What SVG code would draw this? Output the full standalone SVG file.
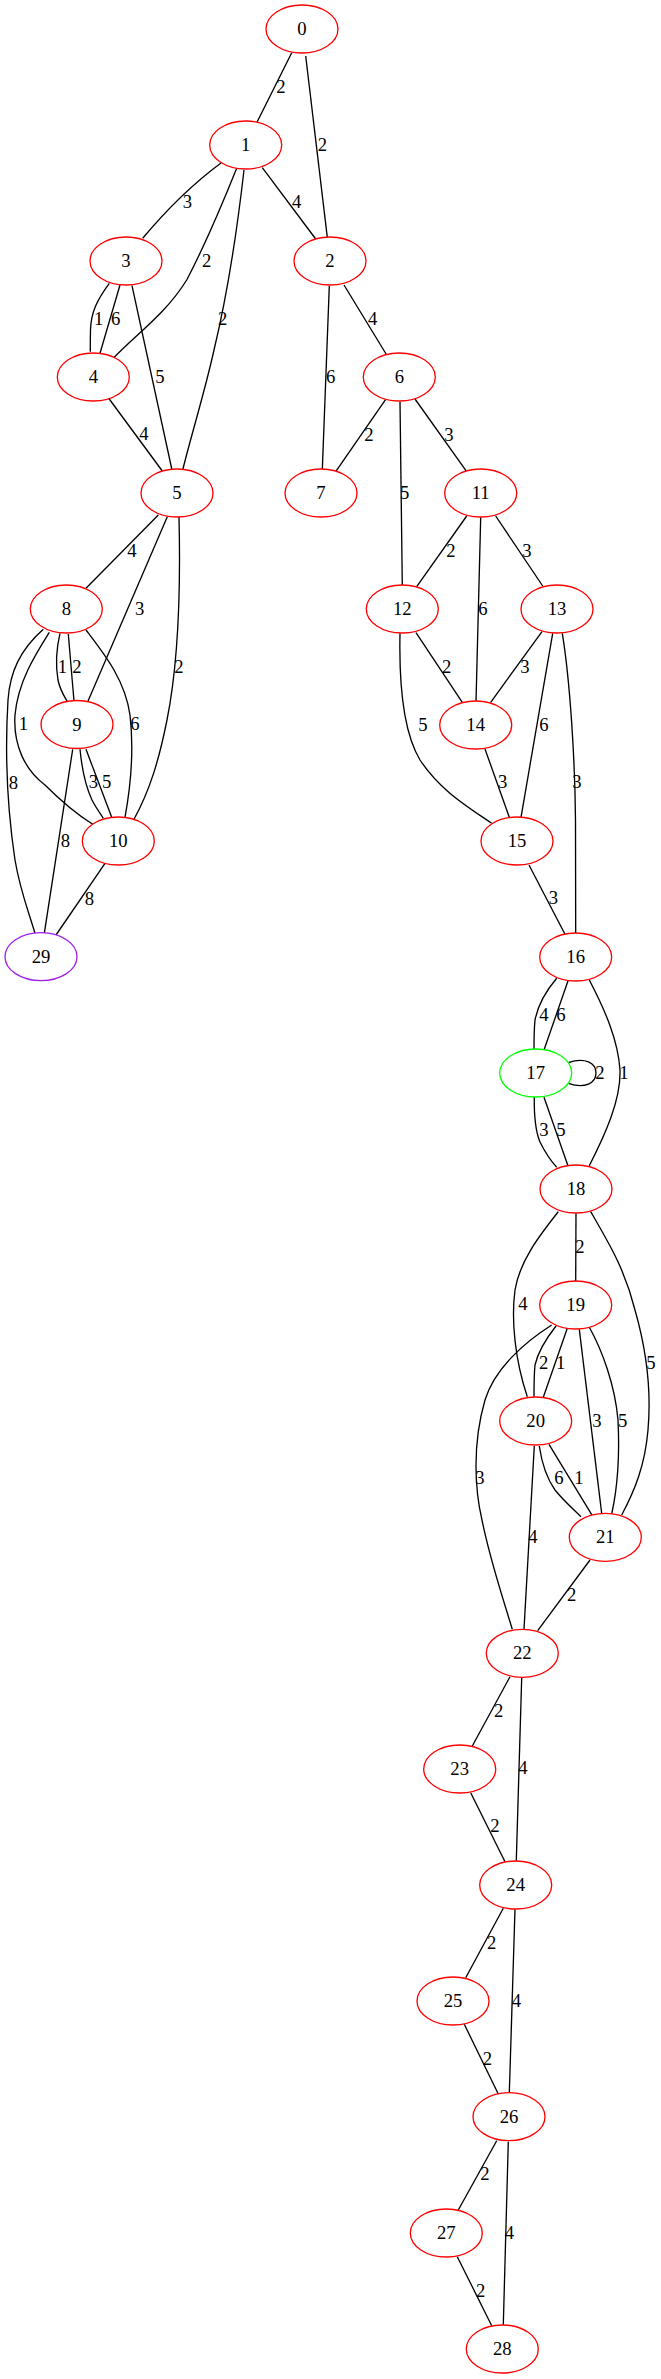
<svg xmlns="http://www.w3.org/2000/svg" width="661" height="2379" viewBox="0 0 661 2379">
<style>
.e path{fill:none;stroke:#000;stroke-width:1.33}
.n ellipse{fill:#fff;stroke:#ff0000;stroke-width:1.33}
text{font-family:"Liberation Serif","Times New Roman",serif;font-size:18.67px;fill:#000;text-anchor:middle}
</style>
<rect width="661" height="2379" fill="#fff"/>
<g id="edges" class="e">
<path d="M291.7,52.7 L256.7,122.7"/>
<path d="M305.7,56 L327.3,237.3"/>
<path d="M262.3,167.7 L315.7,239"/>
<path d="M221,163 C198,180 168,208 142.7,238.3"/>
<path d="M236.7,168.3 C222,205 205,245 186.7,280 C165,315 135,335 113.3,358.3"/>
<path d="M244,170 C236,240 226,300 214,350 C204,395 192,432 182.7,470"/>
<path d="M109.3,283.3 C97,300 91,312 90.5,330 C90.2,340 90.3,345 90.3,351.7"/>
<path d="M120,285 L100,353.3"/>
<path d="M132,285.7 L172,470"/>
<path d="M108.5,398 L162.3,471"/>
<path d="M329.3,286 L322.3,470"/>
<path d="M344,285 L386.7,355"/>
<path d="M385.7,399.3 L335.7,471.7"/>
<path d="M400,401.7 L402.3,585.7"/>
<path d="M415,399 L466.7,471.7"/>
<path d="M158.3,515 L86,588.3"/>
<path d="M167.3,516.7 L87.3,702.7"/>
<path d="M179,517 C181,600 177,670 167,720 C159,760 150,790 134,819.3"/>
<path d="M466.7,516 L416.7,586.7"/>
<path d="M480.7,517.3 L476,701.7"/>
<path d="M495.7,516 L542.7,586"/>
<path d="M416,632.7 L462.3,702.3"/>
<path d="M400,633.3 C399,680 402,730 420,760 C440,790 465,805 491.7,823.3"/>
<path d="M542,631.7 L490.7,702.3"/>
<path d="M552.7,633.3 L521,817.3"/>
<path d="M562.3,633.3 C570,680 575,760 575.5,820 L575.7,933.3"/>
<path d="M485,749 L509.3,817.3"/>
<path d="M529,865 L565,934.3"/>
<path d="M60,633.3 C56,650 56,668 58,680 C60,690 64,696 67.7,702.3"/>
<path d="M68.3,634 L74,701"/>
<path d="M49.3,632.3 C35,655 18,682 15,715 C13,745 25,770 45,785 C60,800 78,815 92.7,824.3"/>
<path d="M86,630 C105,655 125,680 130,715 C134,750 130,790 125,817.3"/>
<path d="M43.3,629.3 C20,650 10,672 8,700 C5,750 6,800 15,860 C20,890 28,910 35,933.3"/>
<path d="M80,749.3 C82,770 85,785 92,800 C96,808 100,813 103.3,818.3"/>
<path d="M86,749.3 L111.7,817.3"/>
<path d="M72.7,749.3 L44.3,933.3"/>
<path d="M105,863.3 L56,935"/>
<path d="M556.7,978.3 C545,992 538,1005 535,1020 C534,1030 534,1040 534,1049.3"/>
<path d="M568.3,980 L544,1050"/>
<path d="M589.3,980 C605,1010 618,1040 620,1070 C621,1100 605,1135 589.3,1165.7"/>
<path d="M568.3,1062.7 C585,1057 596,1063 596,1073 C596,1083 585,1089 568.3,1083.3"/>
<path d="M534.3,1096.7 C534,1115 535,1130 540,1142 C545,1152 550,1160 556.7,1167.3"/>
<path d="M544,1097.3 L568.3,1166.7"/>
<path d="M576,1213.3 L575.7,1281.7"/>
<path d="M558.3,1211.7 C540,1235 520,1260 515,1290 C511,1320 515,1360 527.3,1396.7"/>
<path d="M590.7,1211.7 C610,1245 625,1270 635,1310 C645,1345 652,1385 648,1430 C645,1465 635,1490 621.7,1515"/>
<path d="M556,1326 C545,1340 538,1352 535,1365 C534,1375 534,1385 534,1396.7"/>
<path d="M567.3,1328.3 L543.3,1397.3"/>
<path d="M579.3,1329.3 L601.7,1513.3"/>
<path d="M589.3,1327.3 C602,1350 615,1385 618,1420 C620,1460 617,1490 611.7,1514"/>
<path d="M551.7,1325 C525,1342 495,1368 485,1400 C472,1445 475,1490 482,1520 C490,1560 502,1595 512.3,1629.3"/>
<path d="M539.3,1446 C542,1465 548,1480 555,1490 C563,1500 572,1508 581,1516.7"/>
<path d="M549,1444.3 L592.3,1515.7"/>
<path d="M534.3,1446 L524,1629.3"/>
<path d="M590,1560 L537.7,1630.7"/>
<path d="M510,1676.7 L472.3,1746"/>
<path d="M521.7,1677.7 L516.3,1860.7"/>
<path d="M470.7,1792.7 L505,1861.7"/>
<path d="M503.3,1908.3 L465.7,1977.7"/>
<path d="M515,1909.3 L509.3,2093.3"/>
<path d="M464.3,2024.3 L498.3,2094"/>
<path d="M496.7,2140.7 L458.3,2210"/>
<path d="M508.3,2141.7 L503.3,2325"/>
<path d="M457.3,2256.7 L491.7,2325.7"/>
</g>
<g id="edge-labels">
<text x="281" y="93">2</text>
<text x="322.3" y="151">2</text>
<text x="187.3" y="208.3">3</text>
<text x="296.7" y="208.3">4</text>
<text x="206.7" y="266.7">2</text>
<text x="98.7" y="325">1</text>
<text x="115.7" y="325">6</text>
<text x="222.7" y="325">2</text>
<text x="372.7" y="325">4</text>
<text x="160" y="382.7">5</text>
<text x="330.7" y="382.7">6</text>
<text x="144" y="440.3">4</text>
<text x="369" y="441">2</text>
<text x="449" y="441">3</text>
<text x="404.7" y="498.7">5</text>
<text x="132" y="556.7">4</text>
<text x="451" y="556.7">2</text>
<text x="527" y="556.7">3</text>
<text x="139.7" y="615">3</text>
<text x="483" y="615">6</text>
<text x="62.3" y="672.7">1</text>
<text x="77" y="672.7">2</text>
<text x="179" y="672.7">2</text>
<text x="446.7" y="672.7">2</text>
<text x="525" y="672.7">3</text>
<text x="23.3" y="730.3">1</text>
<text x="135" y="730.3">6</text>
<text x="423" y="731">5</text>
<text x="544" y="731">6</text>
<text x="13.3" y="788.7">8</text>
<text x="93.3" y="787.7">3</text>
<text x="106.7" y="787.7">5</text>
<text x="502.7" y="788.3">3</text>
<text x="577" y="788.3">3</text>
<text x="65.3" y="846.7">8</text>
<text x="89.3" y="905">8</text>
<text x="553.3" y="904.3">3</text>
<text x="544" y="1021">4</text>
<text x="561" y="1021">6</text>
<text x="600" y="1079">2</text>
<text x="624" y="1079">1</text>
<text x="544" y="1136">3</text>
<text x="561" y="1136">5</text>
<text x="580" y="1252.7">2</text>
<text x="523" y="1310.3">4</text>
<text x="651" y="1368.7">5</text>
<text x="543.7" y="1368.7">2</text>
<text x="560.7" y="1368.7">1</text>
<text x="597" y="1426.7">3</text>
<text x="622.7" y="1426.7">5</text>
<text x="480" y="1484.3">3</text>
<text x="559" y="1484.3">6</text>
<text x="579" y="1484.3">1</text>
<text x="533" y="1542.7">4</text>
<text x="571.7" y="1601">2</text>
<text x="498.7" y="1716.7">2</text>
<text x="523" y="1774.3">4</text>
<text x="495" y="1832">2</text>
<text x="491.7" y="1948.7">2</text>
<text x="516.3" y="2006.7">4</text>
<text x="487.3" y="2065.3">2</text>
<text x="485" y="2180">2</text>
<text x="509.3" y="2238.7">4</text>
<text x="480.7" y="2296.7">2</text>
</g>
<g id="nodes" class="n">
<g id="node0"><ellipse cx="302" cy="29" rx="36" ry="24"/><text x="302" y="35">0</text></g>
<g id="node1"><ellipse cx="245.7" cy="145" rx="36" ry="24"/><text x="245.7" y="151">1</text></g>
<g id="node2"><ellipse cx="330" cy="261" rx="36" ry="24"/><text x="330" y="267">2</text></g>
<g id="node3"><ellipse cx="126" cy="261" rx="36" ry="24"/><text x="126" y="267">3</text></g>
<g id="node4"><ellipse cx="93.3" cy="377" rx="36" ry="24"/><text x="93.3" y="383">4</text></g>
<g id="node5"><ellipse cx="177" cy="493" rx="36" ry="24"/><text x="177" y="499">5</text></g>
<g id="node6"><ellipse cx="399.3" cy="377" rx="36" ry="24"/><text x="399.3" y="383">6</text></g>
<g id="node7"><ellipse cx="321" cy="493" rx="36" ry="24"/><text x="321" y="499">7</text></g>
<g id="node8"><ellipse cx="66.3" cy="609" rx="36" ry="24"/><text x="66.3" y="615">8</text></g>
<g id="node9"><ellipse cx="77" cy="724.5" rx="36" ry="24"/><text x="77" y="730.5">9</text></g>
<g id="node10"><ellipse cx="118.3" cy="841" rx="36" ry="24"/><text x="118.3" y="847">10</text></g>
<g id="node11"><ellipse cx="480.7" cy="493" rx="36" ry="24"/><text x="480.7" y="499">11</text></g>
<g id="node12"><ellipse cx="402.3" cy="609" rx="36" ry="24"/><text x="402.3" y="615">12</text></g>
<g id="node13"><ellipse cx="557" cy="609" rx="36" ry="24"/><text x="557" y="615">13</text></g>
<g id="node14"><ellipse cx="475.7" cy="725" rx="36" ry="24"/><text x="475.7" y="731">14</text></g>
<g id="node15"><ellipse cx="517" cy="841" rx="36" ry="24"/><text x="517" y="847">15</text></g>
<g id="node16"><ellipse cx="575.7" cy="957" rx="36" ry="24"/><text x="575.7" y="963">16</text></g>
<g id="node17"><ellipse cx="535.7" cy="1073" rx="36" ry="24" style="stroke:#00ff00"/><text x="535.7" y="1079">17</text></g>
<g id="node18"><ellipse cx="576" cy="1189" rx="36" ry="24"/><text x="576" y="1195">18</text></g>
<g id="node19"><ellipse cx="575.7" cy="1305" rx="36" ry="24"/><text x="575.7" y="1311">19</text></g>
<g id="node20"><ellipse cx="535.7" cy="1421" rx="36" ry="24"/><text x="535.7" y="1427">20</text></g>
<g id="node21"><ellipse cx="605.3" cy="1537.3" rx="36" ry="24"/><text x="605.3" y="1543.3">21</text></g>
<g id="node22"><ellipse cx="522.3" cy="1653.3" rx="36" ry="24"/><text x="522.3" y="1659.3">22</text></g>
<g id="node23"><ellipse cx="459.7" cy="1769" rx="36" ry="24"/><text x="459.7" y="1775">23</text></g>
<g id="node24"><ellipse cx="515.7" cy="1885" rx="36" ry="24"/><text x="515.7" y="1891">24</text></g>
<g id="node25"><ellipse cx="453" cy="2001" rx="36" ry="24"/><text x="453" y="2007">25</text></g>
<g id="node26"><ellipse cx="509" cy="2116.7" rx="36" ry="24"/><text x="509" y="2122.7">26</text></g>
<g id="node27"><ellipse cx="446.3" cy="2233" rx="36" ry="24"/><text x="446.3" y="2239">27</text></g>
<g id="node28"><ellipse cx="502.3" cy="2349" rx="36" ry="24"/><text x="502.3" y="2355">28</text></g>
<g id="node29"><ellipse cx="41" cy="956.7" rx="36" ry="24" style="stroke:#a020f0"/><text x="41" y="962.7">29</text></g>
</g>
</svg>
